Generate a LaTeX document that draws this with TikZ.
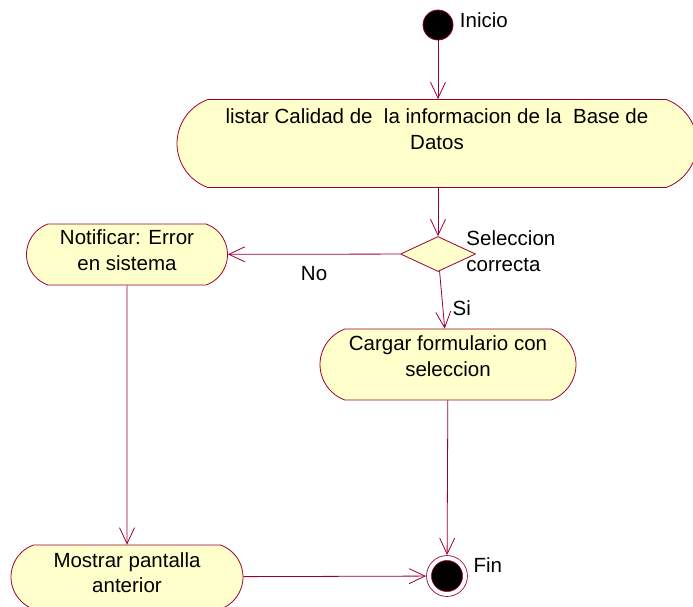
\documentclass[tikz,border=0pt]{standalone}
\usepackage{fontspec}
\setmainfont{Liberation Sans}
\usepackage{xcolor}
\usepackage{tikz}
\usetikzlibrary{arrows.meta,positioning,shapes.geometric,shapes.misc}

\definecolor{umlline}{RGB}{153,0,51}
\definecolor{umlfill}{RGB}{255,255,204}

\begin{document}
\begin{tikzpicture}[
  x=1pt, y=-1pt,
  every node/.style={font=\fontsize{20.5}{25.5}\selectfont},
  activity/.style={rounded rectangle, rounded rectangle arc length=140,
    draw=umlline, fill=umlfill, line width=0.8pt, align=center, inner sep=0pt},
  decision/.style={diamond, draw=umlline, fill=umlfill, line width=0.8pt,
    minimum width=75pt, minimum height=35pt, inner sep=0pt},
  arr/.style={-{Straight Barb[length=16pt,width=15pt]}, draw=umlline, line width=0.8pt},
]
\useasboundingbox (0,0) rectangle (693,606);

% Start and end
\node[circle, fill=black, draw=umlline, line width=0.8pt, minimum size=30pt,
  inner sep=0pt, label={[xshift=3pt, yshift=5pt]east:Inicio}] (inicio) at (438,25) {};
\node[circle, fill=black, draw=umlline, line width=0.8pt, double=white,
  double distance=4pt, minimum size=36pt, inner sep=0pt, outer sep=3pt,
  label={[xshift=2pt, yshift=11pt]east:Fin}] (fin) at (447,576) {};

% Activities
\node[activity, minimum width=520pt, minimum height=88pt, text depth=29pt] (listar)
  at (437,143.5) {listar Calidad de\ \ la informacion de la\ \ Base de\\Datos};
\node[activity, minimum width=201pt, minimum height=61pt, text depth=9pt] (notif)
  at (127,254.5) {Notificar: Error\\en sistema};
\node[activity, minimum width=256pt, minimum height=71pt, text depth=17pt] (cargar)
  at (448,364.5) {Cargar formulario con\\seleccion};
\node[activity, minimum width=232pt, minimum height=64pt, text depth=9pt] (mostrar)
  at (127,577) {Mostrar pantalla\\anterior};

% Decision
\node[decision, label={[align=left, anchor=west, xshift=-13pt, yshift=3pt]east:Seleccion\\correcta}]
  (dec) at (438,254) {};

% Arrows
\draw[arr] (inicio) -- (listar.north -| inicio);
\draw[arr] (listar.south -| dec) -- (dec);
\draw[arr] (dec) -- node[below=8pt] {No} (notif);
\draw[arr] (dec) -- node[pos=0.65, right=6pt] {Si} (cargar);
\draw[arr] (cargar) -- (fin);
\draw[arr] (notif) -- (mostrar);
\draw[arr] (mostrar) -- (fin);

\end{tikzpicture}
\end{document}
